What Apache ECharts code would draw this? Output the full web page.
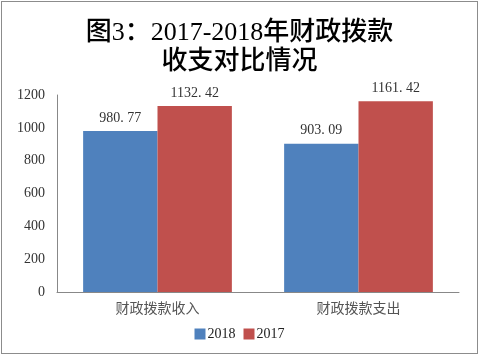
<!DOCTYPE html>
<html><head><meta charset="utf-8">
<script src="https://cdn.jsdelivr.net/npm/echarts@6/dist/echarts.min.js"></script>
<style>
html,body{margin:0;padding:0;background:#fff;}
#wrap{position:absolute;left:1px;top:1px;width:475px;height:351px;border:1px solid #8c8c8c;}
#c{position:absolute;left:-2px;top:-2px;width:479px;height:355px;}
</style></head>
<body><div id="wrap"><div id="c"></div></div>
<script>
const categories = ['财政拨款收入', '财政拨款支出'];
const series2018 = [980.77, 903.09];
const series2017 = [1132.42, 1161.42];
const yTicks = [0, 200, 400, 600, 800, 1000, 1200];
const titleText = '图3：2017-2018年财政拨款\n收支对比情况';

const serif = "'Liberation Serif', 'Noto Sans CJK SC', serif";
const chart = echarts.init(document.getElementById('c'));
const fmt = p => String(p.value.toFixed(2)).replace('.', '. ');
chart.setOption({
  animation: false,
  title: {
    text: titleText, left: 'center', top: 14,
    textStyle: {fontFamily: serif, fontWeight: 500, fontSize: 26, lineHeight: 29, color: '#000'}
  },
  grid: {left: 57, right: 20, top: 95, bottom: 63, containLabel: false},
  legend: {
    bottom: 9, left: 'center', itemWidth: 11, itemHeight: 11, itemGap: 8,
    icon: 'rect',
    textStyle: {fontFamily: serif, fontSize: 14, color: '#222', padding: [0, 0, 0, -3]},
    data: ['2018', '2017']
  },
  xAxis: {
    type: 'category', data: categories,
    axisLine: {lineStyle: {color: '#888'}},
    axisTick: {show: false},
    axisLabel: {fontFamily: serif, fontSize: 14, color: '#555', margin: 10}
  },
  yAxis: {
    type: 'value', min: yTicks[0], max: yTicks[yTicks.length - 1], interval: 200,
    axisLine: {show: true, lineStyle: {color: '#888'}},
    axisTick: {show: false},
    splitLine: {show: false},
    axisLabel: {fontFamily: serif, fontSize: 14, color: '#333', margin: 12, formatter: v => String(v)}
  },
  series: [
    {name: '2018', type: 'bar', data: series2018, barGap: '0%', barCategoryGap: '26%',
     itemStyle: {color: '#4f81bd'},
     label: {show: true, position: 'top', formatter: fmt, fontFamily: serif, fontSize: 14, color: '#333', distance: 6}},
    {name: '2017', type: 'bar', data: series2017,
     itemStyle: {color: '#c0504d'},
     label: {show: true, position: 'top', formatter: fmt, fontFamily: serif, fontSize: 14, color: '#333', distance: 6}}
  ]
});
</script></body></html>
